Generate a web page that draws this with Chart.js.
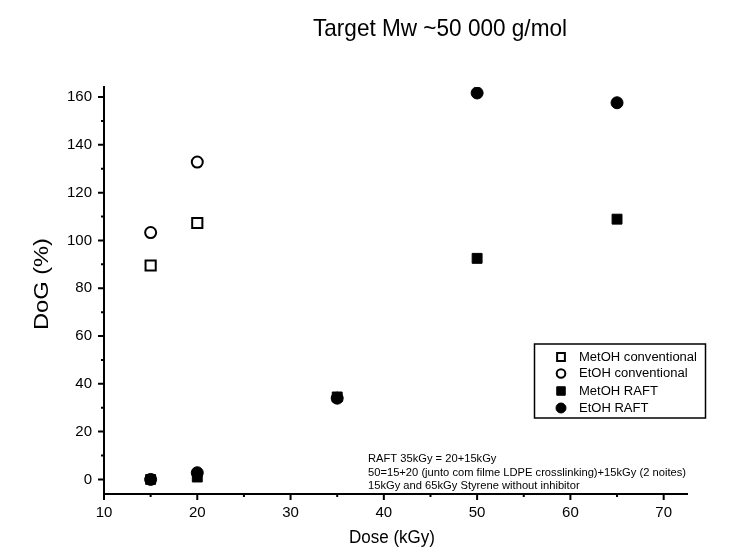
<!DOCTYPE html>
<html><head><meta charset="utf-8">
<script src="https://cdn.jsdelivr.net/npm/chart.js@4/dist/chart.umd.min.js"></script>
<style>html,body{margin:0;padding:0;background:#fff}#wrap{width:733px;height:559px}</style>
</head><body><div id="wrap"><canvas id="c" width="733" height="559"></canvas></div>
<script>
const chartTitle = 'Target Mw ~50 000 g/mol';
const xAxisTitle = 'Dose (kGy)';
const yAxisTitle = 'DoG (%)';
const seriesNames = ['MetOH conventional', 'EtOH conventional', 'MetOH RAFT', 'EtOH RAFT'];
const convDose = [15, 20];
const metohConv = [89.5, 107.3];
const etohConv = [103.3, 132.8];
const raftDose = [15, 20, 35, 50, 65];
const metohRaft = [0, 1, 34.5, 92.5, 108.9];
const etohRaft = [0, 2.8, 34, 161.7, 157.6];
const xTicks = [10, 20, 30, 40, 50, 60, 70];
const xMinorTicks = [15, 25, 35, 45, 55, 65];
const yTicks = [0, 20, 40, 60, 80, 100, 120, 140, 160];
const yMinorTicks = [10, 30, 50, 70, 90, 110, 130, 150];
const notes = [
  'RAFT 35kGy = 20+15kGy',
  '50=15+20 (junto com filme LDPE crosslinking)+15kGy (2 noites)',
  '15kGy and 65kGy Styrene without inhibitor'
];

const FONT = "'Liberation Sans', Arial, sans-serif";
const styles = [
  {pointStyle: 'rect', radius: 7.2, bg: '#fff', border: 2},
  {pointStyle: 'circle', radius: 5.5, bg: '#fff', border: 2},
  {pointStyle: 'rect', radius: 7, bg: '#000', border: 1},
  {pointStyle: 'circle', radius: 6, bg: '#000', border: 1}
];
function pts(xs, ys) { return xs.map((x, i) => ({x: x, y: ys[i]})); }
const seriesData = [pts(convDose, metohConv), pts(convDose, etohConv), pts(raftDose, metohRaft), pts(raftDose, etohRaft)];

// draws text stretched horizontally by factor k
function drawScaled(ctx, text, x, y, k, align) {
  ctx.textAlign = 'left';
  const w = ctx.measureText(text).width * k;
  const x0 = align === 'center' ? x - w / 2 : x;
  ctx.save();
  ctx.translate(x0, y);
  ctx.scale(k, 1);
  ctx.fillText(text, 0, 0);
  ctx.restore();
}
function fitText(ctx, text, x, y, targetW, align) {
  const k = targetW / ctx.measureText(text).width;
  drawScaled(ctx, text, x, y, k, align);
}

const deco = {
  id: 'deco',
  afterDraw(chart) {
    const ctx = chart.ctx;
    const xs = chart.scales.x, ys = chart.scales.y;
    const ca = chart.chartArea;
    ctx.save();
    ctx.strokeStyle = '#000';
    ctx.lineWidth = 2;
    ctx.beginPath();
    xTicks.forEach(v => { const p = xs.getPixelForValue(v); ctx.moveTo(p, ca.bottom); ctx.lineTo(p, ca.bottom + 6); });
    xMinorTicks.forEach(v => { const p = xs.getPixelForValue(v); ctx.moveTo(p, ca.bottom); ctx.lineTo(p, ca.bottom + 3); });
    yTicks.forEach(v => { const p = ys.getPixelForValue(v); ctx.moveTo(ca.left, p); ctx.lineTo(ca.left - 6, p); });
    yMinorTicks.forEach(v => { const p = ys.getPixelForValue(v); ctx.moveTo(ca.left, p); ctx.lineTo(ca.left - 3, p); });
    ctx.stroke();

    ctx.fillStyle = '#000';
    ctx.textBaseline = 'alphabetic';
    // title
    ctx.font = "24px " + FONT;
    fitText(ctx, chartTitle, 440, 36, 254, 'center');
    // x title
    ctx.font = "18px " + FONT;
    fitText(ctx, xAxisTitle, 392, 543, 86, 'center');
    // y title
    ctx.save();
    ctx.translate(48, 284);
    ctx.rotate(-Math.PI / 2);
    ctx.font = "21px " + FONT;
    fitText(ctx, yAxisTitle, 0, 0, 92, 'center');
    ctx.restore();

    // legend
    ctx.lineWidth = 1.5;
    ctx.strokeRect(534.5, 344, 171, 74);
    const rowsY = [357, 373.5, 391, 408];
    const legR = [5.5, 4.3, 6, 5];
    ctx.font = "12px " + FONT;
    const legK = 118 / ctx.measureText(seriesNames[0]).width;
    seriesNames.forEach((name, i) => {
      const st = styles[i];
      ctx.fillStyle = st.bg;
      ctx.strokeStyle = '#000';
      ctx.lineWidth = st.border;
      Chart.helpers.drawPoint(ctx, {pointStyle: st.pointStyle, radius: legR[i], borderWidth: st.border, rotation: 0}, 561, rowsY[i]);
      ctx.fillStyle = '#000';
      ctx.font = "12px " + FONT;
      ctx.textBaseline = 'middle';
      drawScaled(ctx, name, 579, rowsY[i] + 0.5, legK, 'left');
    });
    // notes
    ctx.font = "11px " + FONT;
    ctx.textBaseline = 'middle';
    const notesY = [459, 472.5, 486];
    const noteK = 318 / ctx.measureText(notes[1]).width;
    notes.forEach((t, i) => drawScaled(ctx, t, 368, notesY[i], noteK, 'left'));
    ctx.restore();
  }
};

new Chart(document.getElementById('c'), {
  type: 'scatter',
  data: {
    datasets: seriesNames.map((n, i) => ({
      label: n,
      data: seriesData[i],
      pointStyle: styles[i].pointStyle,
      pointRadius: styles[i].radius,
      pointHoverRadius: styles[i].radius,
      backgroundColor: styles[i].bg,
      borderColor: '#000',
      borderWidth: styles[i].border,
      pointBackgroundColor: styles[i].bg,
      pointBorderColor: '#000',
      pointBorderWidth: styles[i].border
    }))
  },
  options: {
    responsive: false,
    animation: false,
    devicePixelRatio: 1,
    layout: {padding: {left: 0, top: 87, right: 46, bottom: 0}},
    plugins: {legend: {display: false}, tooltip: {enabled: false}, title: {display: false}},
    scales: {
      x: {
        type: 'linear', min: 10, max: 72.5,
        afterBuildTicks: s => { s.ticks = xTicks.map(v => ({value: v})); },
        afterFit: s => { s.height = 65; },
        grid: {display: false, drawTicks: false},
        border: {display: true, color: '#000', width: 2},
        ticks: {color: '#000', font: {family: FONT, size: 15}, padding: 10, maxRotation: 0, autoSkip: false}
      },
      y: {
        type: 'linear', min: -6.1, max: 164.2,
        afterBuildTicks: s => { s.ticks = yTicks.map(v => ({value: v})); },
        afterFit: s => { s.width = 104; },
        grid: {display: false, drawTicks: false},
        border: {display: true, color: '#000', width: 2},
        ticks: {color: '#000', font: {family: FONT, size: 15}, padding: 12, autoSkip: false}
      }
    }
  },
  plugins: [deco]
});
</script>
</body></html>
